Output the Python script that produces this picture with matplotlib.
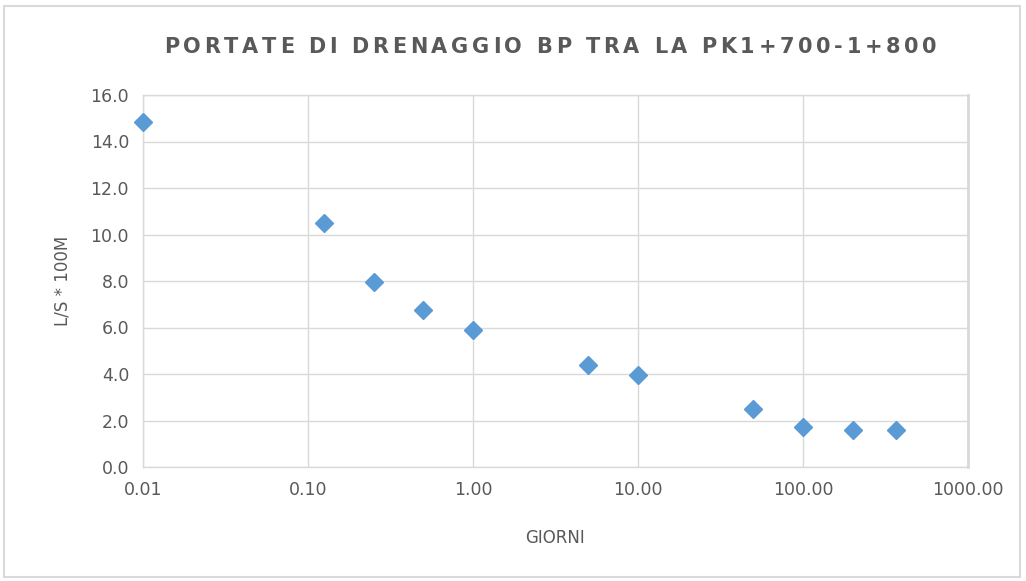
import matplotlib
matplotlib.use('Agg')
import matplotlib.pyplot as plt
from matplotlib.patches import Rectangle
from matplotlib.ticker import FixedLocator, NullLocator

# portate di drenaggio nel tempo
giorni = [0.01, 0.125, 0.25, 0.5, 1, 5, 10, 50, 100, 200, 365]
portata = [14.85, 10.5, 7.95, 6.75, 5.9, 4.4, 3.95, 2.5, 1.7, 1.6, 1.6]

x_ticks = [0.01, 0.1, 1, 10, 100, 1000]
x_labels = ['0.01', '0.10', '1.00', '10.00', '100.00', '1000.00']
y_ticks = [0, 2, 4, 6, 8, 10, 12, 14, 16]

grey = '#595959'
grid = '#d9d9d9'

fig = plt.figure(figsize=(10.26, 5.81), dpi=100)
ax = fig.add_axes([143/1026, 1 - 467/581, (968-143)/1026, (467-95)/581])

ax.plot(giorni, portata, linestyle='none', marker='D', markersize=9,
        color='#5b9bd5', markeredgecolor='#5b9bd5', zorder=3, clip_on=False)

ax.set_xscale('log')
ax.set_xlim(0.01, 1000)
ax.set_ylim(0, 16)
ax.xaxis.set_major_locator(FixedLocator(x_ticks))
ax.xaxis.set_minor_locator(NullLocator())
ax.set_xticklabels(x_labels)
ax.set_yticks(y_ticks)
ax.set_yticklabels(['%.1f' % v for v in y_ticks])

ax.grid(True, color=grid, linewidth=1.0)
ax.set_axisbelow(True)
for s in ax.spines.values():
    s.set_color(grid)
    s.set_linewidth(1.0)
ax.spines['right'].set_linewidth(2)
ax.tick_params(length=0, labelsize=12.5, colors=grey, pad=10)

ax.set_xlabel('GIORNI', fontsize=12, color=grey, labelpad=22)
ax.set_ylabel('L/S * 100M', fontsize=12, color=grey, labelpad=14)

# titolo con lettere spaziate: larghezza reale di ogni lettera + spazio fisso
titolo = 'PORTATE DI DRENAGGIO BP TRA LA PK1+700-1+800'
renderer = fig.canvas.get_renderer()
larghezze = []
for c in titolo:
    t = fig.text(0, 0, c if c != ' ' else 'i', fontsize=15, fontweight='bold')
    larghezze.append(t.get_window_extent(renderer).width)
    t.remove()
x_px, fine_px = 164, 937
extra = (fine_px - x_px - sum(larghezze)) / (len(titolo) - 1)
for c, w in zip(titolo, larghezze):
    if c != ' ':
        fig.text(x_px / 1026, 1 - 47/581, c, ha='left', va='center',
                 fontsize=15, color=grey, fontweight='bold')
    x_px += w + extra

# cornice del grafico
fig.patches.append(Rectangle((4/1026, 4/581), 1016/1026, 571/581, transform=fig.transFigure,
                             fill=False, edgecolor=grid, linewidth=1.5))

fig.savefig('out.png', dpi=100)
